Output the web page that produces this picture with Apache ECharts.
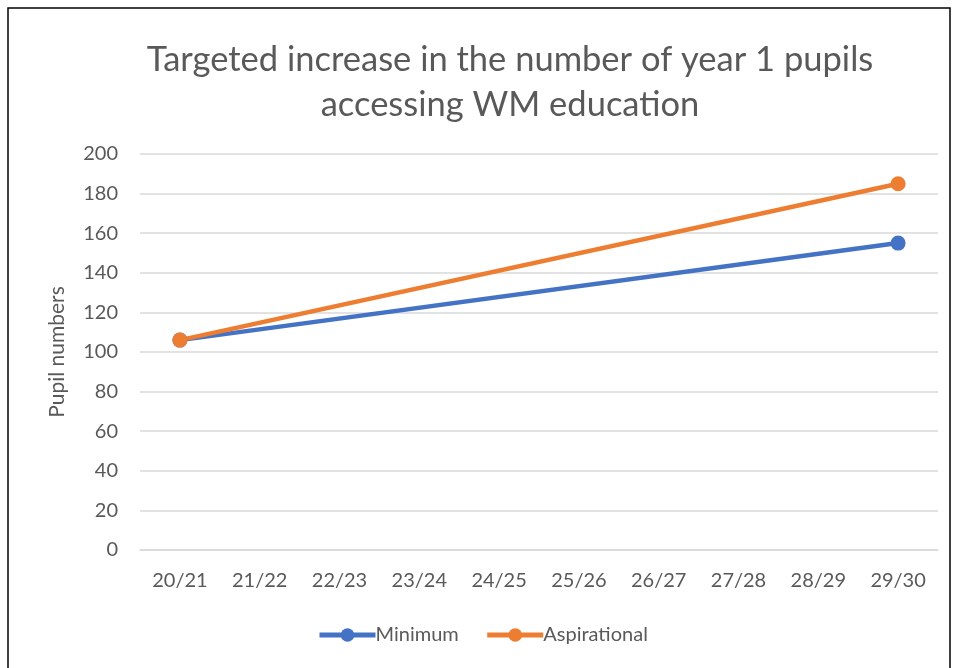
<!DOCTYPE html>
<html>
<head>
<meta charset="utf-8">
<script src="https://cdn.jsdelivr.net/npm/echarts@6/dist/echarts.min.js"></script>
<style>
  html, body { margin: 0; padding: 0; background: #fff; }
  #chart { width: 956px; height: 668px; }
</style>
</head>
<body>
<div id="chart"></div>
<script>
// school years along the x axis
const years = ['20/21', '21/22', '22/23', '23/24', '24/25', '25/26', '26/27', '27/28', '28/29', '29/30'];
// only the start and end targets are plotted, the line joins them
const minimum = [106, null, null, null, null, null, null, null, null, 155];
const aspirational = [106, null, null, null, null, null, null, null, null, 185];

const font = 'Lato, "Open Sans", sans-serif';
const textColor = '#595959';

const chart = echarts.init(document.getElementById('chart'));

const lineSeries = (name, data, color) => ({
    name: name,
    type: 'line',
    data: data,
    connectNulls: true,
    symbol: 'circle',
    symbolSize: 15,
    showSymbol: true,
    itemStyle: { color: color },
    lineStyle: { color: color, width: 4.5 },
    emphasis: { disabled: true }
});

chart.setOption({
    animation: false,
    textStyle: { fontFamily: font },
    graphic: [{
        type: 'rect',
        shape: { x: 8, y: 8, width: 942, height: 680 },
        style: { fill: 'none', stroke: '#000', lineWidth: 1.5 },
        silent: true
    }],
    title: {
        text: 'Targeted increase in the number of year 1 pupils\naccessing WM education',
        left: 505,
        textAlign: 'center',
        top: 32,
        textStyle: {
            fontFamily: font,
            fontSize: 34.5,
            fontWeight: 'normal',
            color: textColor,
            lineHeight: 45
        }
    },
    legend: {
        bottom: 18,
        left: 312,
        itemWidth: 56,
        itemHeight: 17,
        itemGap: 26,
        lineStyle: { width: 5 },
        textStyle: { fontFamily: font, fontSize: 20, color: textColor, padding: [0, 0, 0, -5] },
        data: ['Minimum', 'Aspirational']
    },
    grid: {
        left: 140,
        right: 18,
        top: 154,
        bottom: 118,
        containLabel: false
    },
    xAxis: {
        type: 'category',
        data: years,
        boundaryGap: true,
        axisLine: { show: true, lineStyle: { color: '#d9d9d9', width: 1.5 } },
        axisTick: { show: false },
        axisLabel: { fontFamily: font, fontSize: 20, color: textColor, margin: 21 }
    },
    yAxis: {
        type: 'value',
        min: 0,
        max: 200,
        interval: 20,
        name: 'Pupil numbers',
        nameLocation: 'middle',
        nameGap: 72,
        nameTextStyle: { fontFamily: font, fontSize: 21, color: textColor },
        axisLine: { show: false },
        axisTick: { show: false },
        axisLabel: { fontFamily: font, fontSize: 20, color: textColor, margin: 22 },
        splitLine: { lineStyle: { color: '#d9d9d9', width: 1.5 } }
    },
    series: [
        lineSeries('Minimum', minimum, '#4472c4'),
        lineSeries('Aspirational', aspirational, '#ed7d31')
    ]
});
</script>
</body>
</html>
